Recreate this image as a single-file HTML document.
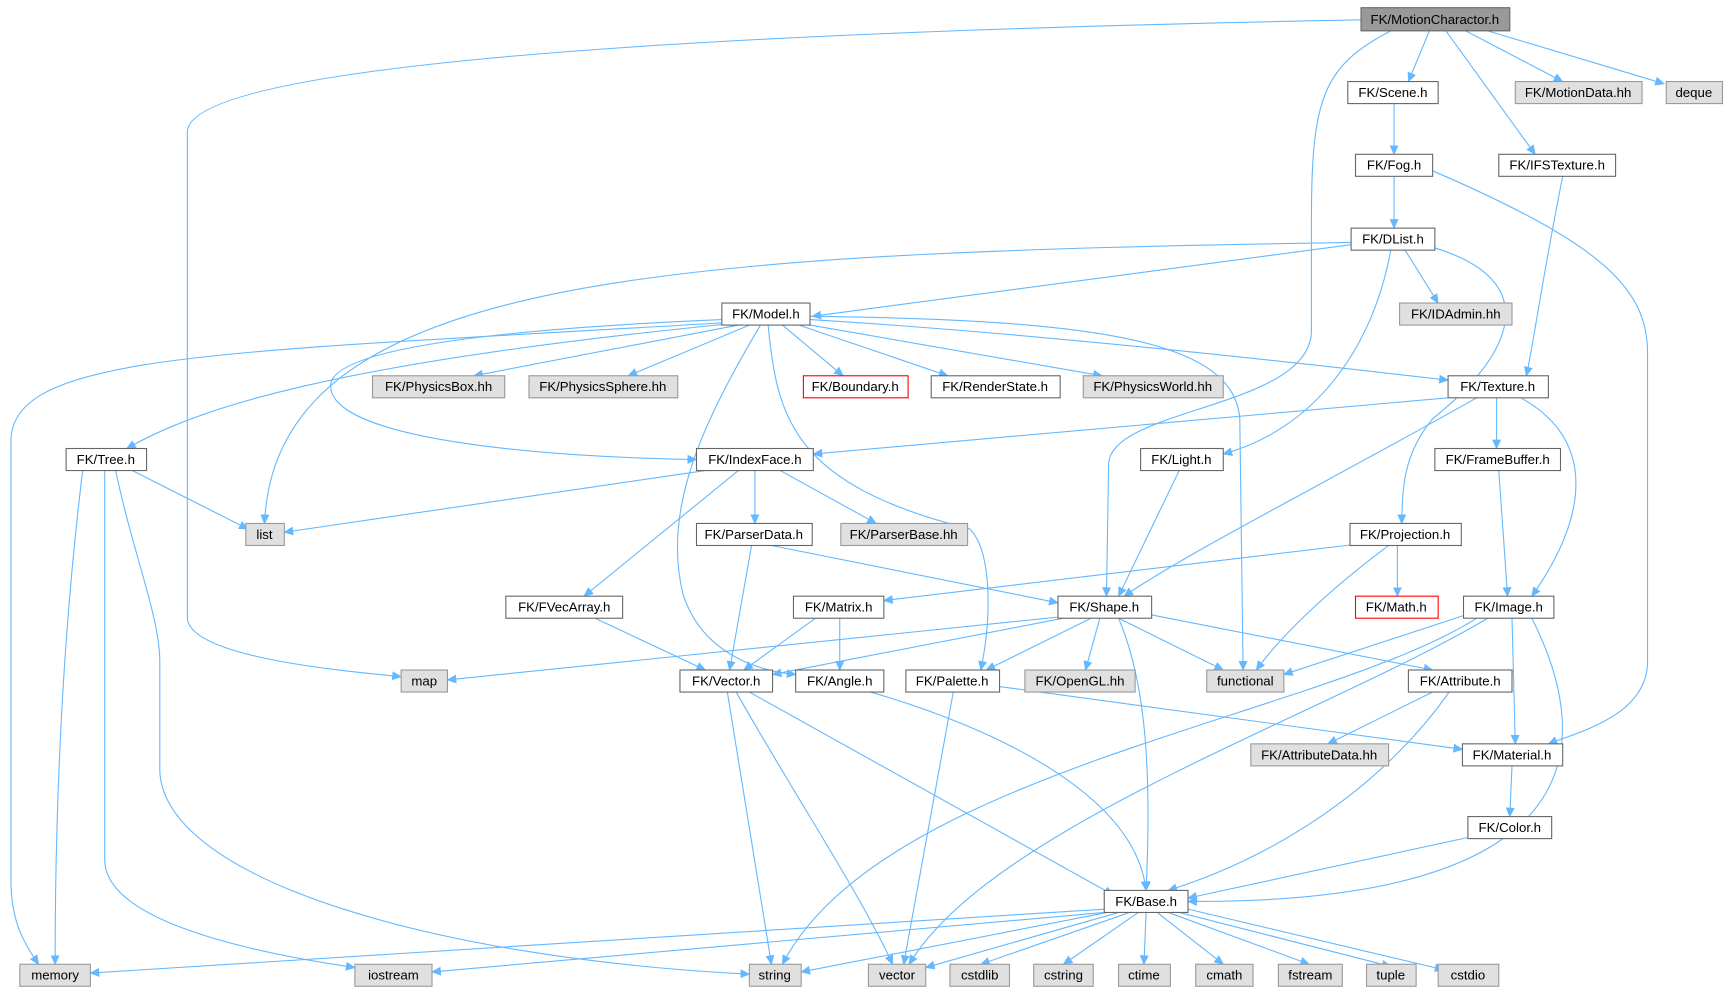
<!DOCTYPE html>
<html><head><meta charset="utf-8"><style>
html,body{margin:0;padding:0;background:#fff;}
svg{display:block;}
text{font-family:"Liberation Sans",sans-serif;font-size:12px;text-anchor:middle;fill:#000;}
.e{fill:none;stroke:#63b8ff;stroke-width:1;marker-end:url(#a);}
.n{fill:#fff;stroke:#666;stroke-width:1;}
.g{fill:#e0e0e0;stroke:#999;stroke-width:1;}
.r{fill:#fff;stroke:#f00;stroke-width:1;}
.d{fill:#999;stroke:#666;stroke-width:1;}
</style></head><body>
<svg width="1728" height="994" viewBox="0 0 1568 902" preserveAspectRatio="none" xmlns="http://www.w3.org/2000/svg">
<defs><marker id="a" viewBox="0 0 10 10" refX="9" refY="5" markerWidth="9" markerHeight="9" markerUnits="userSpaceOnUse" orient="auto"><path d="M0,0.5 L10,5 L0,9.5 z" fill="#63b8ff"/></marker></defs>
<g>
<path class="e" d="M1235,18 C600,30 170,60 170,120 L170,560 C170,595 300,608 364,614"/>
<path class="e" d="M1262,28 C1200,60 1190,90 1190,200 L1190,300 C1190,370 1010,370 1006,420 L1004,541"/>
<path class="e" d="M1297,28 L1278,74"/>
<path class="e" d="M1312,28 L1393,140"/>
<path class="e" d="M1330,28 L1418,74"/>
<path class="e" d="M1350,28 L1510,76"/>
<path class="e" d="M1265,94 L1265,140"/>
<path class="e" d="M1265,160 L1265,207"/>
<path class="e" d="M1300,155 C1450,220 1495,260 1495,320 L1495,600 C1495,650 1430,665 1405,675"/>
<path class="e" d="M1418,160 C1400,250 1390,320 1385,341"/>
<path class="e" d="M1226,222 L737,287"/>
<path class="e" d="M1226,220 C600,230 250,250 240,475"/>
<path class="e" d="M1275,227 L1305,275"/>
<path class="e" d="M1262,227 C1245,320 1190,390 1110,412"/>
<path class="e" d="M1302,225 C1400,255 1375,320 1300,380 C1275,410 1272,440 1272,475"/>
<path class="e" d="M655,293 C200,320 10,320 10,400 L10,800 C10,840 25,860 35,875"/>
<path class="e" d="M660,294 C300,330 180,370 115,407"/>
<path class="e" d="M655,290 C420,300 300,320 300,350 C300,400 500,415 632,417"/>
<path class="e" d="M670,295 L430,341"/>
<path class="e" d="M680,295 L570,341"/>
<path class="e" d="M690,295 C640,380 600,460 620,540 C640,600 700,610 722,612"/>
<path class="e" d="M697,295 C705,380 720,440 880,480 C900,500 900,560 890,608"/>
<path class="e" d="M710,295 L765,341"/>
<path class="e" d="M725,295 L860,341"/>
<path class="e" d="M735,295 L1000,341"/>
<path class="e" d="M735,290 C900,300 1100,320 1314,345"/>
<path class="e" d="M735,287 C1000,290 1120,310 1125,380 L1128,608"/>
<path class="e" d="M120,427 L225,480"/>
<path class="e" d="M75,427 C60,550 50,700 50,875"/>
<path class="e" d="M95,427 L95,780 C95,830 200,860 322,878"/>
<path class="e" d="M105,427 C120,500 145,560 145,600 L145,700 C150,800 400,870 680,884"/>
<path class="e" d="M1314,361 L738,412"/>
<path class="e" d="M1340,361 C1200,440 1080,500 1020,541"/>
<path class="e" d="M1358,361 L1358,407"/>
<path class="e" d="M1380,361 C1450,400 1440,470 1390,541"/>
<path class="e" d="M1070,427 L1015,541"/>
<path class="e" d="M1360,427 L1368,541"/>
<path class="e" d="M640,427 L258,483"/>
<path class="e" d="M685,427 L685,475"/>
<path class="e" d="M708,427 L795,475"/>
<path class="e" d="M670,427 L530,541"/>
<path class="e" d="M700,495 L960,547"/>
<path class="e" d="M682,495 L662,608"/>
<path class="e" d="M1230,494 L802,545"/>
<path class="e" d="M1268,495 L1268,541"/>
<path class="e" d="M1260,495 C1200,540 1160,580 1140,608"/>
<path class="e" d="M540,561 L640,608"/>
<path class="e" d="M740,561 L675,608"/>
<path class="e" d="M762,561 L762,608"/>
<path class="e" d="M960,560 L406,617"/>
<path class="e" d="M965,561 L701,612"/>
<path class="e" d="M990,561 L895,608"/>
<path class="e" d="M998,561 L985,608"/>
<path class="e" d="M1015,561 L1110,608"/>
<path class="e" d="M1045,558 L1300,608"/>
<path class="e" d="M1015,561 C1040,620 1045,700 1040,808"/>
<path class="e" d="M1330,558 L1165,612"/>
<path class="e" d="M1340,561 C1200,650 800,700 710,875"/>
<path class="e" d="M1350,561 C1200,650 900,750 825,875"/>
<path class="e" d="M1372,561 L1375,675"/>
<path class="e" d="M1390,561 C1450,680 1440,820 1078,818"/>
<path class="e" d="M660,628 L700,875"/>
<path class="e" d="M668,628 C720,720 780,810 810,875"/>
<path class="e" d="M680,628 L1010,812"/>
<path class="e" d="M790,628 C900,660 1030,720 1040,808"/>
<path class="e" d="M865,628 L820,875"/>
<path class="e" d="M907,623 L1327,680"/>
<path class="e" d="M1300,628 L1205,675"/>
<path class="e" d="M1315,628 C1250,720 1150,780 1060,808"/>
<path class="e" d="M1372,695 L1370,741"/>
<path class="e" d="M1332,760 L1078,815"/>
<path class="e" d="M1002,825 L82,883"/>
<path class="e" d="M1002,828 L392,882"/>
<path class="e" d="M1005,828 L727,882"/>
<path class="e" d="M1015,828 L840,878"/>
<path class="e" d="M1025,828 L890,875"/>
<path class="e" d="M1033,828 L965,875"/>
<path class="e" d="M1040,828 L1038,875"/>
<path class="e" d="M1050,828 L1110,875"/>
<path class="e" d="M1060,828 L1188,875"/>
<path class="e" d="M1070,828 L1262,877"/>
<path class="e" d="M1078,825 L1310,880"/>
</g>
<g>
<rect class="d" x="1235" y="7" width="135" height="21"/><text x="1302" y="22">FK/MotionCharactor.h</text>
<rect class="n" x="1223" y="74" width="82" height="20"/><text x="1264" y="88">FK/Scene.h</text>
<rect class="g" x="1375" y="74" width="115" height="20"/><text x="1432" y="88">FK/MotionData.hh</text>
<rect class="g" x="1512" y="74" width="51" height="20"/><text x="1537" y="88">deque</text>
<rect class="n" x="1230" y="140" width="70" height="20"/><text x="1265" y="154">FK/Fog.h</text>
<rect class="n" x="1360" y="140" width="106" height="20"/><text x="1413" y="154">FK/IFSTexture.h</text>
<rect class="n" x="1226" y="207" width="76" height="20"/><text x="1264" y="221">FK/DList.h</text>
<rect class="g" x="1270" y="275" width="102" height="20"/><text x="1321" y="289">FK/IDAdmin.hh</text>
<rect class="n" x="655" y="275" width="80" height="20"/><text x="695" y="289">FK/Model.h</text>
<rect class="g" x="338" y="341" width="120" height="20"/><text x="398" y="355">FK/PhysicsBox.hh</text>
<rect class="g" x="480" y="341" width="135" height="20"/><text x="547" y="355">FK/PhysicsSphere.hh</text>
<rect class="r" x="729" y="341" width="95" height="20"/><text x="776" y="355">FK/Boundary.h</text>
<rect class="n" x="845" y="341" width="117" height="20"/><text x="903" y="355">FK/RenderState.h</text>
<rect class="g" x="983" y="341" width="127" height="20"/><text x="1046" y="355">FK/PhysicsWorld.hh</text>
<rect class="n" x="1314" y="341" width="91" height="20"/><text x="1359" y="355">FK/Texture.h</text>
<rect class="n" x="60" y="407" width="73" height="20"/><text x="96" y="421">FK/Tree.h</text>
<rect class="n" x="632" y="407" width="106" height="20"/><text x="685" y="421">FK/IndexFace.h</text>
<rect class="n" x="1035" y="407" width="75" height="20"/><text x="1072" y="421">FK/Light.h</text>
<rect class="n" x="1302" y="407" width="114" height="20"/><text x="1359" y="421">FK/FrameBuffer.h</text>
<rect class="g" x="223" y="475" width="35" height="20"/><text x="240" y="489">list</text>
<rect class="n" x="632" y="475" width="105" height="20"/><text x="684" y="489">FK/ParserData.h</text>
<rect class="g" x="763" y="475" width="115" height="20"/><text x="820" y="489">FK/ParserBase.hh</text>
<rect class="n" x="1225" y="475" width="101" height="20"/><text x="1275" y="489">FK/Projection.h</text>
<rect class="n" x="459" y="541" width="106" height="20"/><text x="512" y="555">FK/FVecArray.h</text>
<rect class="n" x="720" y="541" width="82" height="20"/><text x="761" y="555">FK/Matrix.h</text>
<rect class="n" x="960" y="541" width="85" height="20"/><text x="1002" y="555">FK/Shape.h</text>
<rect class="r" x="1230" y="541" width="75" height="20"/><text x="1267" y="555">FK/Math.h</text>
<rect class="n" x="1328" y="541" width="82" height="20"/><text x="1369" y="555">FK/Image.h</text>
<rect class="g" x="364" y="608" width="42" height="20"/><text x="385" y="622">map</text>
<rect class="n" x="617" y="608" width="84" height="20"/><text x="659" y="622">FK/Vector.h</text>
<rect class="n" x="722" y="608" width="80" height="20"/><text x="762" y="622">FK/Angle.h</text>
<rect class="n" x="822" y="608" width="85" height="20"/><text x="864" y="622">FK/Palette.h</text>
<rect class="g" x="930" y="608" width="100" height="20"/><text x="980" y="622">FK/OpenGL.hh</text>
<rect class="g" x="1095" y="608" width="70" height="20"/><text x="1130" y="622">functional</text>
<rect class="n" x="1278" y="608" width="94" height="20"/><text x="1325" y="622">FK/Attribute.h</text>
<rect class="g" x="1135" y="675" width="125" height="20"/><text x="1197" y="689">FK/AttributeData.hh</text>
<rect class="n" x="1327" y="675" width="91" height="20"/><text x="1372" y="689">FK/Material.h</text>
<rect class="n" x="1332" y="741" width="76" height="20"/><text x="1370" y="755">FK/Color.h</text>
<rect class="n" x="1002" y="808" width="76" height="20"/><text x="1040" y="822">FK/Base.h</text>
<rect class="g" x="18" y="875" width="64" height="20"/><text x="50" y="889">memory</text>
<rect class="g" x="322" y="875" width="70" height="20"/><text x="357" y="889">iostream</text>
<rect class="g" x="680" y="875" width="47" height="20"/><text x="703" y="889">string</text>
<rect class="g" x="788" y="875" width="52" height="20"/><text x="814" y="889">vector</text>
<rect class="g" x="862" y="875" width="54" height="20"/><text x="889" y="889">cstdlib</text>
<rect class="g" x="938" y="875" width="54" height="20"/><text x="965" y="889">cstring</text>
<rect class="g" x="1015" y="875" width="47" height="20"/><text x="1038" y="889">ctime</text>
<rect class="g" x="1085" y="875" width="52" height="20"/><text x="1111" y="889">cmath</text>
<rect class="g" x="1160" y="875" width="58" height="20"/><text x="1189" y="889">fstream</text>
<rect class="g" x="1240" y="875" width="45" height="20"/><text x="1262" y="889">tuple</text>
<rect class="g" x="1305" y="875" width="55" height="20"/><text x="1332" y="889">cstdio</text>
</g>
</svg>
</body></html>
